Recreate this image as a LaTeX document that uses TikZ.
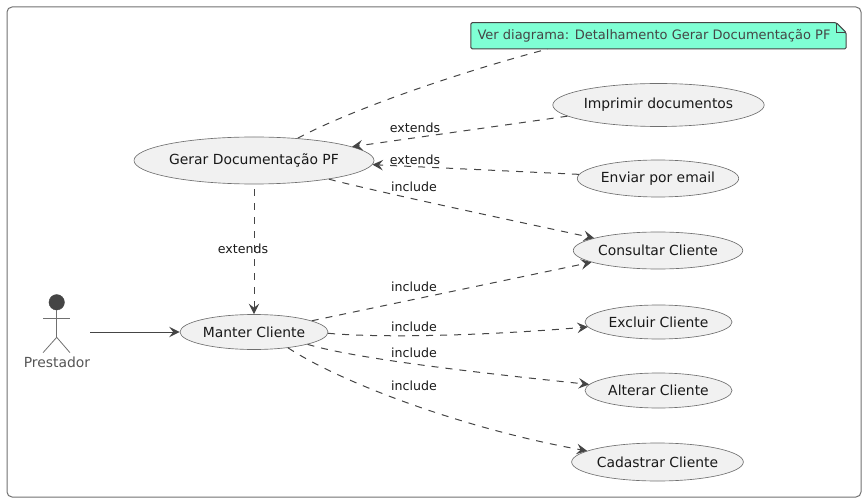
\documentclass[tikz,border=0pt]{standalone}
\usepackage{fontspec}
\setmainfont{DejaVu Sans}
\usetikzlibrary{shapes.geometric,arrows.meta}
\definecolor{edgecol}{HTML}{454545}
\definecolor{ucfill}{HTML}{F1F1F1}
\definecolor{notefill}{HTML}{7FFFD4}
\definecolor{lbl}{HTML}{555555}
\definecolor{ucline}{HTML}{707070}
\tikzset{
  uc/.style={ellipse,draw=ucline,fill=ucfill,line width=.65pt,inner sep=0pt,font=\fontsize{13.9}{16}\selectfont,text=black!90},
  rel/.style={draw=edgecol,line width=1pt,-{Stealth[length=10.5pt,width=10.5pt,inset=4pt]}},
  dep/.style={rel,dash pattern=on 7pt off 7pt},
  plain/.style={draw=edgecol,line width=1pt,dash pattern=on 7pt off 7pt},
  elabel/.style={font=\fontsize{12.6}{15}\selectfont,text=black!90,inner sep=0pt},
  actorline/.style={draw=ucline,line width=.8pt}
}
\begin{document}
\begin{tikzpicture}[x=1pt,y=-1pt]
\useasboundingbox (0,0) rectangle (866,502);
\node[draw=ucline,line width=1pt,rounded corners=5pt,minimum width=854pt,minimum height=490pt,inner sep=0pt] (frame) at (434,252) {};
% note
\node[inner sep=0pt,minimum width=375pt,minimum height=26pt] (note) at (658.5,35.8) {};
\draw[fill=notefill,draw=edgecol,line width=1pt,rounded corners=1.5pt]
  (note.north west) -- ([xshift=-10pt]note.north east) -- ([yshift=-10pt]note.north east) -- (note.south east) -- (note.south west) -- cycle;
\draw[draw=edgecol,line width=.8pt] ([xshift=-10pt]note.north east) -- ([xshift=-10pt,yshift=-10pt]note.north east) -- ([yshift=-10pt]note.north east);
\node[font=\fontsize{13}{15}\selectfont,text=edgecol,inner sep=0pt] (notetext) at (654,35.5) {Ver diagrama: Detalhamento Gerar Documentação PF};
% use cases
\node[uc,minimum width=206pt,minimum height=47pt] (gerar) at (254,160.5) {Gerar Documentação PF};
\node[uc,minimum width=148pt,minimum height=35pt] (manter) at (254,332) {Manter Cliente};
\node[uc,minimum width=189pt,minimum height=43pt] (imprimir) at (658.5,105) {Imprimir documentos};
\node[uc,minimum width=158pt,minimum height=37pt] (enviar) at (658,178.5) {Enviar por email};
\node[uc,minimum width=162pt,minimum height=37pt] (consultar) at (658,250.5) {Consultar Cliente};
\node[uc,minimum width=147pt,minimum height=34pt] (excluir) at (658.5,322) {Excluir Cliente};
\node[uc,minimum width=147pt,minimum height=35pt] (alterar) at (658.5,390.5) {Alterar Cliente};
\node[uc,minimum width=163pt,minimum height=38pt] (cadastrar) at (657.5,462) {Cadastrar Cliente};
% actor
\node[circle,fill=edgecol,draw=edgecol,inner sep=0pt,minimum size=15.5pt] (head) at (56.7,302.3) {};
\coordinate (hip) at (56.7,337.3);
\coordinate (handl) at (43,318);
\coordinate (handr) at (70,318);
\coordinate (footl) at (43,352.7);
\coordinate (footr) at (70,352.7);
\draw[actorline] (head.south) -- (hip);
\draw[actorline] (handl) -- (handr);
\draw[actorline] (footl) -- (hip) -- (footr);
\node[font=\fontsize{13.9}{16}\selectfont,text=lbl,inner sep=0pt] (actor) at (57,362) {Prestador};
\coordinate (actorout) at (90,332);
% connectors
\draw[rel] (actorout) -- (manter.west);
\draw[plain] (gerar.27.6) .. controls (350,110) and (460,72) .. ([xshift=77pt]note.south west);
\draw[dep] (imprimir.187.8) -- (gerar.8);
\draw[dep] (enviar.177.4) -- (gerar.-2.5);
\draw[dep] (gerar.-14.2) .. controls (370,190) and (500,218) .. (consultar.169.8);
\draw[dep,dash phase=9pt] (gerar.south) -- (manter.north);
\draw[dep] (manter.11.3) -- (consultar.190.3);
\draw[dep] (manter.-1) .. controls (380,338) and (480,336) .. (excluir.184);
\draw[dep] (manter.-13.3) .. controls (360,360) and (500,375) .. (alterar.175.4);
\draw[dep] (manter.-25) .. controls (345,385) and (470,430) .. (cadastrar.171.6);
% labels
\node[elabel] (l1) at (415,128) {extends};
\node[elabel] (l2) at (415,159.5) {extends};
\node[elabel] (l3) at (414,187) {include};
\node[elabel] (l4) at (243,249) {extends};
\node[elabel] (l5) at (414,286.5) {include};
\node[elabel] (l6) at (414,326.5) {include};
\node[elabel] (l7) at (414,353) {include};
\node[elabel] (l8) at (414,385.5) {include};
\end{tikzpicture}
\end{document}
